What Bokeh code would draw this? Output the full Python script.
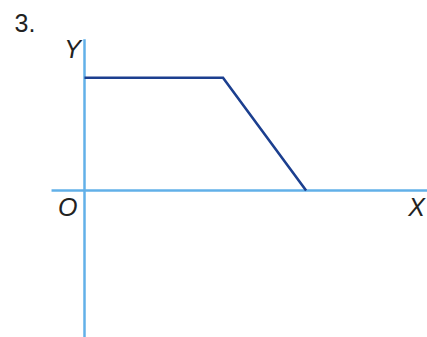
from bokeh.plotting import figure
from bokeh.models import Range1d
from bokeh.core.properties import value
from bokeh.embed import file_html
from bokeh.resources import INLINE

# graph data (math units)
x_vals = [0, 5, 8]
y_vals = [4, 4, 0]

# axis extents
x_axis_ext = [-1.19, 13.0]
y_axis_ext = [-5.4, 5.36]

# labels
italic_labels = ["Y", "O", "X"]
italic_x = [-0.43, -0.61, 11.99]
italic_y = [5.03, -0.57, -0.60]
num_label = ["3."]
num_x = [-2.15]
num_y = [5.94]

p = figure(width=427, height=337, output_backend="svg", toolbar_location=None,
           x_range=Range1d(-3.0325, 12.3827), y_range=Range1d(-5.2128, 6.7376),
           min_border=0, min_border_left=0, min_border_right=0,
           min_border_top=0, min_border_bottom=0)
p.axis.visible = False
p.grid.visible = False
p.outline_line_color = None
p.background_fill_color = "white"
p.border_fill_color = "white"

axis_color = "#62b0e8"
p.line(x_axis_ext, [0, 0], line_color=axis_color, line_width=2.5)
p.line([0, 0], y_axis_ext, line_color=axis_color, line_width=2.5)

p.line(x_vals, y_vals, line_color="#1c3f8f", line_width=2.6, line_join="miter")

p.text(x=italic_x, y=italic_y, text=italic_labels, text_font=value("Liberation Sans"),
       text_font_style="italic", text_font_size="25px", text_color="#222222",
       text_align="center", text_baseline="middle")
p.text(x=num_x, y=num_y, text=num_label, text_font=value("Liberation Sans"),
       text_font_size="25px", text_color="#222222",
       text_align="center", text_baseline="middle")

open("out.html", "w").write(file_html(p, INLINE))
